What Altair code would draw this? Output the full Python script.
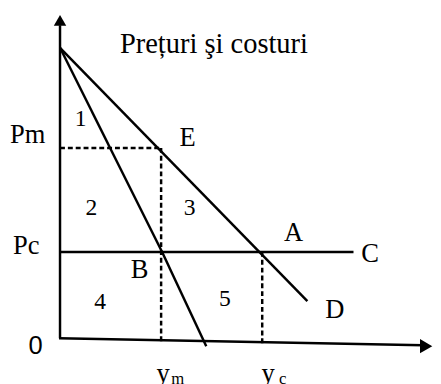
import altair as alt
import pandas as pd

# Solid lines: demand, marginal revenue, cost line Pc, axes
solid_x = [0, 0, 0, 104, 0, -1, 0]
solid_y = [297, 297, 89, 89, 1, 1, 1]
solid_x2 = [252, 104, 299, 149, 0, 370, 0]
solid_y2 = [39, 89, 89, -7, 320, -6, 1]

# Dashed guide lines (Pm level, ym, yc)
dash_x = [0, 103, 206]
dash_y = [195, 195, 89]
dash_x2 = [103, 103, 206]
dash_y2 = [195, -2, -4]

# Letter labels
let_text = ["Pm", "Pc", "E", "A", "B", "C", "D"]
let_x = [-51, -48, 130, 238, 81, 316, 280]
let_y = [200, 87, 197, 100, 62, 79, 22]
let_align = ["left", "left", "center", "center", "center", "center", "center"]

# Area numbers
num_text = ["1", "2", "3", "4", "5"]
num_x = [21, 32, 132, 41, 168]
num_y = [217, 127, 127, 31, 34]

# Quantity labels
q_text = ["y", "y"]
q_sub = ["m", "c"]
q_x = [105, 212]
q_sub_x = [120, 227]
q_y = [-43, -43]

title_text = "Prețuri şi costuri"

xs = alt.Scale(domain=[-53, 380], zero=False, nice=False)
ys = alt.Scale(domain=[-42, 334], zero=False, nice=False)

def X(f): return alt.X(f, type="quantitative", scale=xs, axis=None)
def Y(f): return alt.Y(f, type="quantitative", scale=ys, axis=None)

solid = pd.DataFrame({"x": solid_x, "y": solid_y, "x2": solid_x2, "y2": solid_y2})
dashed = pd.DataFrame({"x": dash_x, "y": dash_y, "x2": dash_x2, "y2": dash_y2})

l_solid = alt.Chart(solid).mark_rule(color="black", strokeWidth=2.5).encode(
    x=X("x"), y=Y("y"), x2="x2", y2="y2")
l_dash = alt.Chart(dashed).mark_rule(color="black", strokeWidth=2.5, strokeDash=[5, 3]).encode(
    x=X("x"), y=Y("y"), x2="x2", y2="y2")

arrows = pd.DataFrame({"x": [0, 373], "y": [325, -7], "shape": ["triangle-up", "triangle-right"],
                       "s": [160, 210]})
l_arrow = alt.Chart(arrows).mark_point(filled=True, color="black", opacity=1).encode(
    x=X("x"), y=Y("y"), shape=alt.Shape("shape:N", scale=None), size=alt.Size("s:Q", scale=None))

letters = pd.DataFrame({"t": let_text, "x": let_x, "y": let_y, "a": let_align})
l_let_left = alt.Chart(letters[letters.a == "left"]).mark_text(
    font="Liberation Serif", fontSize=27, align="left", baseline="alphabetic", color="black").encode(
    x=X("x"), y=Y("y"), text="t")
l_let_c = alt.Chart(letters[letters.a == "center"]).mark_text(
    font="Liberation Serif", fontSize=27, align="center", baseline="alphabetic", color="black").encode(
    x=X("x"), y=Y("y"), text="t")

nums = pd.DataFrame({"t": num_text, "x": num_x, "y": num_y})
l_num = alt.Chart(nums).mark_text(
    font="Liberation Serif", fontSize=24, align="center", baseline="alphabetic", color="black").encode(
    x=X("x"), y=Y("y"), text="t")

zero = pd.DataFrame({"t": ["0"], "x": [-25], "y": [-15]})
l_zero = alt.Chart(zero).mark_text(
    font="Liberation Sans", fontSize=26, align="center", baseline="alphabetic", color="black").encode(
    x=X("x"), y=Y("y"), text="t")

qd = pd.DataFrame({"t": q_text, "x": q_x, "y": q_y})
l_q = alt.Chart(qd).mark_text(
    font="Liberation Serif", fontSize=27, align="center", baseline="alphabetic", color="black").encode(
    x=X("x"), y=Y("y"), text="t")
qs = pd.DataFrame({"t": q_sub, "x": q_sub_x, "y": [v - 3 for v in q_y]})
l_qs = alt.Chart(qs).mark_text(
    font="Liberation Serif", fontSize=17, align="center", baseline="alphabetic", color="black").encode(
    x=X("x"), y=Y("y"), text="t")

td = pd.DataFrame({"t": [title_text], "x": [61], "y": [292]})
l_title = alt.Chart(td).mark_text(
    font="Liberation Serif", fontSize=29, align="left", baseline="alphabetic", color="black").encode(
    x=X("x"), y=Y("y"), text="t")

chart = alt.layer(l_solid, l_dash, l_arrow, l_let_left, l_let_c, l_num, l_zero, l_q, l_qs, l_title).properties(
    width=433, height=376, padding=0, autosize=alt.AutoSizeParams(type="none"), background="white"
).configure_view(stroke=None)

chart.save("out.html", embed_options={"renderer": "svg", "actions": False})
